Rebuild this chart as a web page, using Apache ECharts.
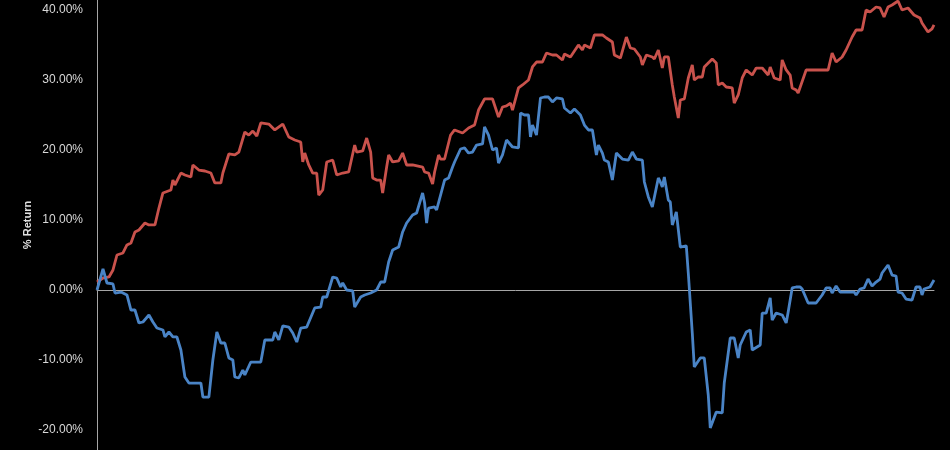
<!DOCTYPE html>
<html>
<head>
<meta charset="utf-8">
<script src="https://cdn.jsdelivr.net/npm/echarts@6/dist/echarts.min.js"></script>
<style>
html,body{margin:0;padding:0;background:#000;}
#c{width:950px;height:450px;}
</style>
</head>
<body>
<div id="c"></div>
<script>
// Trading-day index and % return, red series
const redDays = [0,3,6,8,10,13,15,17,19,21,24,26,29,31,33,37,38,39,42,44,47,48,51,54,57,59,62,63,66,69,71,74,76,78,80,82,86,89,93,96,99,102,103,104,106,108,110,111,113,115,118,120,123,126,129,130,133,135,137,138,140,142,143,145,146,148,151,153,155,158,159,163,164,166,168,169,171,172,174,177,179,183,186,189,191,194,198,201,203,205,207,208,209,211,213,216,218,220,223,225,228,230,233,234,237,238,241,243,244,247,249,253,255,258,259,262,263,265,267,269,272,273,275,278,279,281,283,284,286,288,289,291,292,294,296,298,299,301,303,304,308,310,311,313,315,318,319,321,323,325,328,330,333,336,337,339,342,343,345,347,348,350,351,355,359,366,368,370,373,375,378,380,383,385,387,390,392,394,396,398,401,403,406,409,412,413,416,418,419];
const redVals = [1.14,1.71,1.86,2.86,5.00,5.29,6.43,6.71,8.29,8.57,9.57,9.29,9.29,11.71,13.86,14.29,15.71,15.00,16.71,16.43,16.14,17.86,17.14,17.00,16.71,15.29,15.29,16.71,19.43,19.30,19.71,22.57,22.14,22.71,22.00,23.86,23.71,22.86,23.71,21.86,21.43,21.14,18.29,19.57,17.86,16.71,16.71,13.57,14.29,18.29,18.57,16.43,16.71,16.86,20.71,19.71,19.86,21.71,19.71,16.00,15.71,15.71,13.86,17.57,19.29,18.29,18.43,19.57,17.86,17.86,18.14,17.57,16.86,16.71,15.14,16.86,19.29,18.71,18.71,22.14,22.86,22.43,23.14,23.57,25.71,27.29,27.29,24.71,26.14,26.29,26.71,25.71,25.71,28.86,29.29,30.00,31.86,32.57,32.57,33.86,33.57,33.57,32.86,33.71,33.29,33.57,35.00,34.29,35.00,34.57,36.43,36.43,36.00,35.43,33.57,33.14,33.14,36.14,34.57,34.43,33.29,32.14,33.57,33.29,33.00,34.29,31.71,33.29,33.29,29.29,27.57,24.57,27.14,27.29,30.29,32.14,30.00,30.43,30.43,31.86,33.00,32.43,29.29,29.57,29.00,28.86,26.71,27.86,30.29,31.43,30.71,31.71,31.71,30.71,31.86,30.29,30.00,32.86,31.43,30.71,28.86,28.57,28.14,31.43,31.43,31.43,33.86,32.57,33.29,34.29,36.14,37.14,37.14,40.00,39.71,40.43,40.29,39.00,40.43,40.71,41.29,40.00,40.29,39.29,38.86,38.14,36.86,37.29,37.86];

// Trading-day index and % return, blue series
const blueDays = [0,3,5,8,9,12,13,15,17,19,21,23,26,28,30,33,34,36,38,40,42,44,46,49,52,53,56,58,60,62,64,66,68,69,71,73,74,77,82,84,88,89,91,93,96,98,100,102,105,109,112,113,115,118,120,122,123,125,128,129,132,134,137,138,140,142,144,146,148,151,153,155,158,160,163,164,165,166,169,170,174,176,178,179,182,184,186,188,190,193,194,196,198,200,201,203,205,208,209,211,212,214,216,217,218,220,222,224,226,228,230,233,234,237,239,242,244,246,248,250,251,253,254,256,258,260,263,266,268,270,273,274,276,278,279,281,282,283,284,286,287,288,290,291,292,295,296,298,299,300,302,304,306,307,308,310,313,314,317,319,321,322,323,325,327,328,332,333,335,337,338,340,343,345,346,348,350,352,353,354,356,360,363,365,367,368,370,372,376,379,380,382,384,386,388,390,392,393,396,398,400,401,403,405,408,410,412,413,414,417,419];
const blueVals = [0.00,3.00,1.00,0.86,-0.43,-0.29,-0.57,-0.71,-2.86,-2.86,-4.71,-4.57,-3.57,-4.57,-5.43,-5.71,-6.71,-6.00,-6.71,-6.71,-8.57,-12.43,-13.29,-13.29,-13.29,-15.29,-15.29,-10.00,-6.00,-7.57,-7.57,-9.71,-10.00,-12.43,-12.57,-11.43,-12.14,-10.29,-10.29,-7.14,-7.14,-6.00,-7.14,-5.14,-5.29,-6.14,-7.43,-5.43,-5.29,-2.57,-2.43,-1.00,-1.00,1.86,1.71,0.43,1.00,0.00,-0.14,-2.43,-1.00,-0.71,-0.43,-0.43,0.00,1.14,1.14,4.00,5.71,6.14,8.29,9.57,10.71,11.00,13.86,12.43,9.57,11.71,11.86,11.43,15.71,16.00,17.57,18.29,20.14,20.29,19.57,19.71,20.71,20.86,23.29,22.14,20.00,20.29,18.14,19.29,21.43,20.43,20.71,20.29,25.29,25.00,25.00,21.86,23.57,22.14,27.43,27.57,27.57,26.86,27.43,27.29,26.00,25.29,25.86,25.00,23.57,22.86,22.86,19.29,20.71,19.57,18.57,18.29,15.71,19.57,18.71,18.57,19.71,18.71,18.57,15.43,13.29,11.86,11.86,16.00,15.43,14.71,16.14,12.86,12.57,9.29,11.14,11.00,6.14,6.29,2.43,-6.14,-11.00,-11.14,-9.71,-9.71,-15.00,-19.71,-19.57,-17.43,-17.57,-13.29,-6.86,-6.86,-9.71,-7.86,-8.14,-6.00,-5.71,-8.57,-7.86,-3.29,-3.29,-1.14,-4.29,-3.29,-3.57,-4.71,-3.14,0.29,0.43,0.43,0.14,0.14,-1.86,-1.86,-0.71,0.29,0.29,-0.43,0.57,-0.29,-0.29,-0.29,-0.71,0.14,0.29,1.57,0.57,1.14,1.57,2.43,3.57,2.14,2.00,-0.29,-0.43,-1.29,-1.43,0.43,0.43,-0.71,0.14,0.43,1.43];

// Y tick labels shown (the view is cropped at about -22.9% and 41.4%)
const yTickValues = [-20, -10, 0, 10, 20, 30, 40];
const yViewMin = -160 / 7;   // ≈ -22.86
const yViewMax = 290 / 7;    // ≈ 41.43
const axisName = '% Return';

const redData = redDays.map((d, i) => [d, redVals[i]]);
const blueData = blueDays.map((d, i) => [d, blueVals[i]]);

const chart = echarts.init(document.getElementById('c'), null, {renderer: 'canvas'});
chart.setOption({
  backgroundColor: '#000000',
  animation: false,
  grid: {left: 97, right: 16, top: 0, bottom: 0, containLabel: false},
  xAxis: {
    type: 'value',
    min: 0,
    max: 419,
    axisLine: {show: true, onZero: true, lineStyle: {color: '#a6a6a6', width: 1}},
    axisTick: {show: false},
    axisLabel: {show: false},
    splitLine: {show: false}
  },
  yAxis: {
    type: 'value',
    min: yViewMin,
    max: yViewMax,
    name: axisName,
    nameLocation: 'middle',
    nameRotate: 90,
    nameGap: 64,
    nameMoveOverlap: false,
    nameTextStyle: {color: '#e0e0e0', fontWeight: 'bold', fontSize: 11, fontFamily: 'Liberation Sans, Arial, sans-serif'},
    axisLine: {show: true, lineStyle: {color: '#a6a6a6', width: 1}},
    axisTick: {show: false},
    splitLine: {show: false},
    axisLabel: {
      customValues: yTickValues,
      color: '#d9d9d9',
      fontSize: 12,
      margin: 14,
      fontFamily: 'Liberation Sans, Arial, sans-serif',
      formatter: v => v.toFixed(2) + '%'
    }
  },
  series: [
    {
      type: 'line', data: redData, showSymbol: false, symbol: 'none',
      lineStyle: {color: '#c9524c', width: 2.8}
    },
    {
      type: 'line', data: blueData, showSymbol: false, symbol: 'none',
      lineStyle: {color: '#4a84c6', width: 2.8}
    }
  ]
});
</script>
</body>
</html>
